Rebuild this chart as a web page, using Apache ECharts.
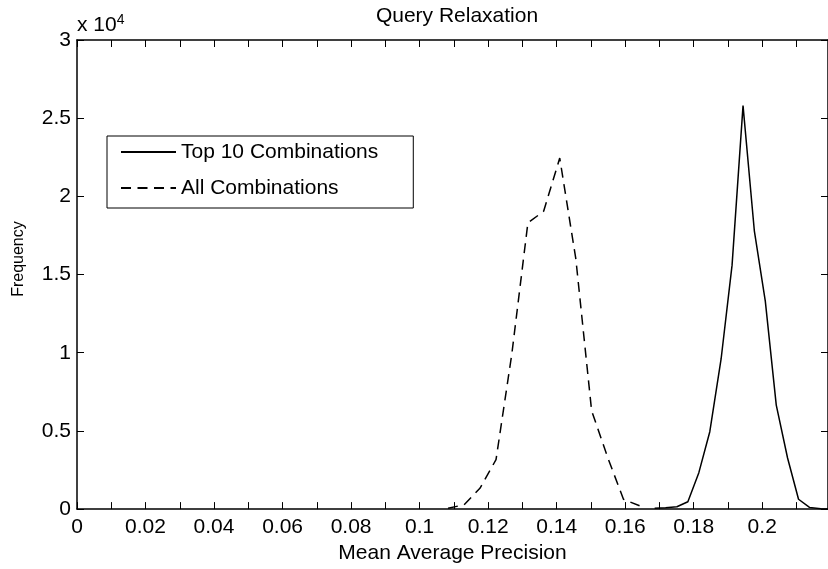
<!DOCTYPE html>
<html><head><meta charset="utf-8">
<script src="https://cdn.jsdelivr.net/npm/echarts@6/dist/echarts.min.js"></script>
<style>html,body{margin:0;padding:0;background:#fff}#c{width:828px;height:569px}</style>
</head><body><div id="c"></div>
<script>
// Data
const topName = 'Top 10 Combinations';
const topX = [0.1686,0.1718,0.1751,0.1783,0.1815,0.1847,0.1880,0.1912,0.1944,0.1977,0.2009,0.2041,0.2074,0.2106,0.2138,0.2171,0.2203];
const topY = [60,90,150,470,2330,4950,9600,15600,25800,17800,13300,6650,3270,630,110,20,0];

const allName = 'All Combinations';
const allX = [0.1083,0.1130,0.1176,0.1223,0.1269,0.1316,0.1362,0.1409,0.1456,0.1502,0.1549,0.1595,0.1642];
const allY = [50,280,1330,3160,9900,18300,19050,22450,16000,6300,3300,630,210];

const xMin = 0, xMax = 0.2192, xTickStep = 0.01, xLabelStep = 0.02;
const yMin = 0, yMax = 30000, yTickStep = 5000, yScale = 10000;

const titleText = 'Query Relaxation';
const xLabelText = 'Mean Average Precision';
const yLabelText = 'Frequency';
const expText = 'x 10';
const expSup = '4';

const FONT = "'Liberation Sans', Arial, Helvetica, sans-serif";
const chart = echarts.init(document.getElementById('c'), null, {renderer: 'canvas'});

function xFmt(v) {
  const k = v / xLabelStep;
  if (Math.abs(k - Math.round(k)) > 1e-6) return '';
  return String(+v.toFixed(2));
}
function yFmt(v) {
  const k = v / yTickStep;
  if (Math.abs(k - Math.round(k)) > 1e-6) return '';
  return String(+(v / yScale).toFixed(2));
}
const axisLine = {show: true, onZero: false, lineStyle: {color: '#000', width: 1.5}};
const tick = {show: true, inside: true, length: 7, lineStyle: {color: '#000', width: 1}};
const lbl = {color: '#000', fontSize: 21, fontFamily: FONT};

const option = {
  backgroundColor: '#fff',
  animation: false,
  title: {
    text: titleText, left: 452, top: 1, textAlign: 'center',
    textStyle: {fontSize: 21, fontWeight: 'normal', color: '#000', fontFamily: FONT}
  },
  legend: {
    orient: 'vertical', left: 107, top: 136,
    data: [topName, allName],
    itemWidth: 55, itemHeight: 14, itemGap: 14,
    padding: [5, 35, 9, 13],
    borderColor: '#000', borderWidth: 1, backgroundColor: '#fff',
    itemStyle: {opacity: 0},
    textStyle: {fontSize: 21, color: '#000', fontFamily: FONT, lineHeight: 22}
  },
  grid: {left: 77, right: -2, top: 40, bottom: 54, containLabel: false},
  xAxis: [{
    type: 'value', min: xMin, max: xMax, interval: xTickStep, position: 'bottom',
    axisLine, axisTick: tick, splitLine: {show: false},
    axisLabel: Object.assign({formatter: xFmt, margin: 8, showMaxLabel: false}, lbl),
    name: xLabelText, nameLocation: 'middle', nameGap: 31,
    nameTextStyle: {fontSize: 21, color: '#000', fontFamily: FONT}
  }, {
    type: 'value', min: xMin, max: xMax, interval: xTickStep, position: 'top',
    axisLine, axisTick: tick, splitLine: {show: false}, axisLabel: {show: false}
  }],
  yAxis: [{
    type: 'value', min: yMin, max: yMax, interval: yTickStep, position: 'left',
    axisLine, axisTick: tick, splitLine: {show: false},
    axisLabel: Object.assign({formatter: yFmt, margin: 6}, lbl),
    name: yLabelText, nameLocation: 'middle', nameGap: 50, nameRotate: 90,
    nameTextStyle: {fontSize: 16, color: '#000', fontFamily: FONT, padding: [0, 0, 0, 31]}
  }, {
    type: 'value', min: yMin, max: yMax, interval: yTickStep, position: 'right',
    axisLine, axisTick: tick, splitLine: {show: false}, axisLabel: {show: false}
  }],
  graphic: [{
    type: 'text', left: 77, top: 13,
    style: {
      text: '{a|' + expText + '}{b|' + expSup + '}',
      rich: {
        a: {fontSize: 21, fontFamily: FONT, fill: '#000', lineHeight: 24},
        b: {fontSize: 14, fontFamily: FONT, fill: '#000', lineHeight: 14, verticalAlign: 'top'}
      }
    }
  }],
  series: [{
    name: topName, type: 'line', symbol: 'none',
    data: topX.map((x, i) => [x, topY[i]]),
    lineStyle: {color: '#000', width: 1.5, type: 'solid'},
    itemStyle: {color: '#000'}
  }, {
    name: allName, type: 'line', symbol: 'none',
    data: allX.map((x, i) => [x, allY[i]]),
    lineStyle: {color: '#000', width: 1.5, type: [10, 6.5]},
    itemStyle: {color: '#000'}
  }]
};
chart.setOption(option);
</script>
</body></html>
